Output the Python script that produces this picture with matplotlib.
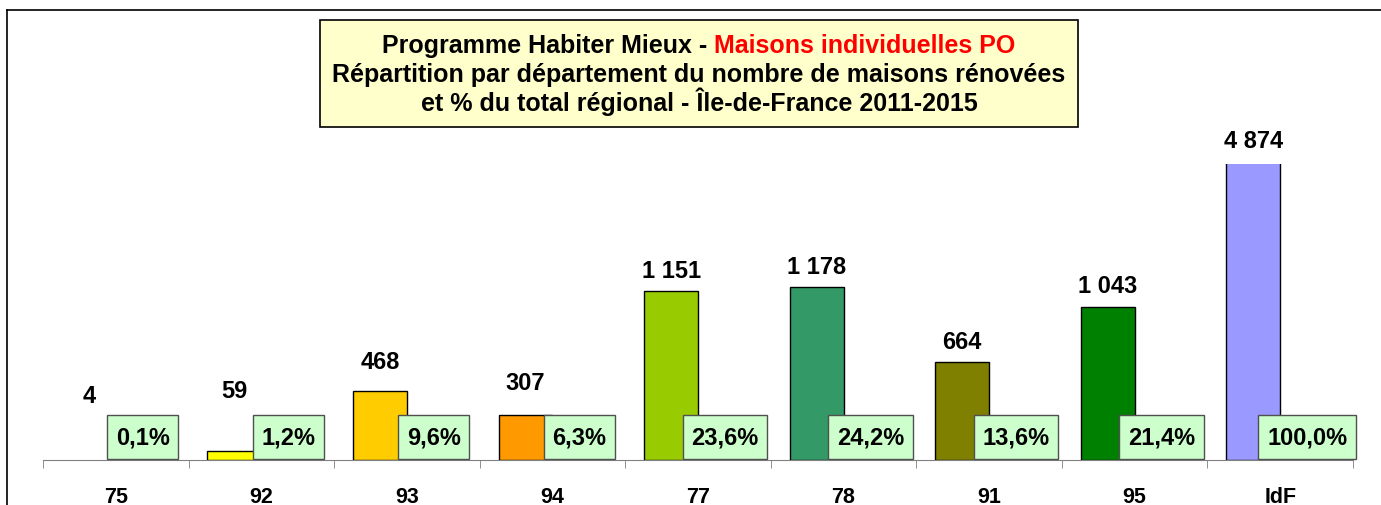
import matplotlib
matplotlib.use("Agg")
import matplotlib.pyplot as plt
from matplotlib.patches import Rectangle
from matplotlib.lines import Line2D
import numpy as np

plt.rcParams['font.family'] = ['Liberation Sans', 'DejaVu Sans']
plt.rcParams['font.weight'] = 'bold'

# data
departements = ["75", "92", "93", "94", "77", "78", "91", "95", "IdF"]
maisons = [4, 59, 468, 307, 1151, 1178, 664, 1043, 4874]
maisons_txt = ["4", "59", "468", "307", "1 151", "1 178", "664", "1 043", "4 874"]
part_txt = ["0,1%", "1,2%", "9,6%", "6,3%", "23,6%", "24,2%", "13,6%", "21,4%", "100,0%"]
couleurs = ["none", "#FFFF00", "#FFCC00", "#FF9900", "#99CC00",
            "#339966", "#808000", "#008000", "#9999FF"]
bords = ["none"] + ["black"] * 8
# decalage des etiquettes au-dessus des barres (px)
decal = [63, 60, 30, 32, 21, 21, 21, 21, 23]

W, H = 1381, 506
fig = plt.figure(figsize=(W / 100, H / 100), dpi=100)

# cadre (haut + gauche)
fig.add_artist(Line2D([7 / W, 7 / W], [0, 1 - 11 / H], color="black", lw=1.2))
fig.add_artist(Line2D([7 / W, 1], [1 - 11 / H, 1 - 11 / H], color="black", lw=1.2))

ax = fig.add_axes([43 / W, 45.5 / H, 1310 / W, 295.5 / H])
ymax = 2020
x = np.arange(len(departements))
bw = 0.37
x1 = x - 0.185
x2 = x + 0.185

ax.bar(x1, maisons, width=bw, color=couleurs, edgecolor=bords, linewidth=1)
ax.set_xlim(-0.5, len(departements) - 0.5)
ax.set_ylim(0, ymax)

for xi, v, t, d in zip(x1, maisons, maisons_txt, decal):
    ax.annotate(t, xy=(xi, min(v, ymax)), xytext=(0, d * 0.72),
                textcoords="offset points", ha="center", va="center",
                fontsize=17, fontweight="bold", annotation_clip=False)

# etiquettes % dans des cadres verts (pad vertical plus grand)
for xi, t in zip(x2, part_txt):
    ax.annotate(t, xy=(xi, 0), xytext=(0, 7.8), textcoords="offset points",
                ha="center", va="bottom", fontsize=17, fontweight="bold",
                bbox=dict(boxstyle="square,pad=0.37", mutation_aspect=1.24,
                          fc="#CCFFCC", ec="#505050", lw=1),
                zorder=5, annotation_clip=False)

for s in ["top", "right", "left"]:
    ax.spines[s].set_visible(False)
ax.spines["bottom"].set_color("#808080")
ax.set_yticks([])
ax.set_xticks(x)
ax.set_xticklabels(departements, fontsize=15.5, fontweight="bold")
ax.tick_params(axis="x", which="major", length=0, pad=19)
ax.set_xticks(np.arange(-0.5, len(departements)), minor=True)
ax.tick_params(axis="x", which="minor", length=5.5, direction="out", color="#808080")

# titre dans un cadre jaune
fig.add_artist(Rectangle((320 / W, 1 - 128 / H), 758 / W, 107 / H,
                         transform=fig.transFigure, fc="#FFFFCC", ec="black", lw=1.2))
fig.text(699 / W, 1 - 82 / H, "Répartition par département du nombre de maisons rénovées",
         ha="center", va="baseline", fontsize=18, fontweight="bold")
fig.text(699 / W, 1 - 111 / H, "et % du total régional - Île-de-France 2011-2015",
         ha="center", va="baseline", fontsize=18, fontweight="bold")

t1 = fig.text(0, 1 - 53 / H, "Programme Habiter Mieux - ", ha="left", va="baseline",
              fontsize=18, fontweight="bold", color="black")
t2 = fig.text(0, 1 - 53 / H, "Maisons individuelles PO", ha="left", va="baseline",
              fontsize=18, fontweight="bold", color="#FF0000")
fig.canvas.draw()
r = fig.canvas.get_renderer()
w1 = t1.get_window_extent(r).width
w2 = t2.get_window_extent(r).width
x0 = 699 - (w1 + w2) / 2
t1.set_x(x0 / W)
t2.set_x((x0 + w1) / W)

fig.savefig("out.png", dpi=100)
